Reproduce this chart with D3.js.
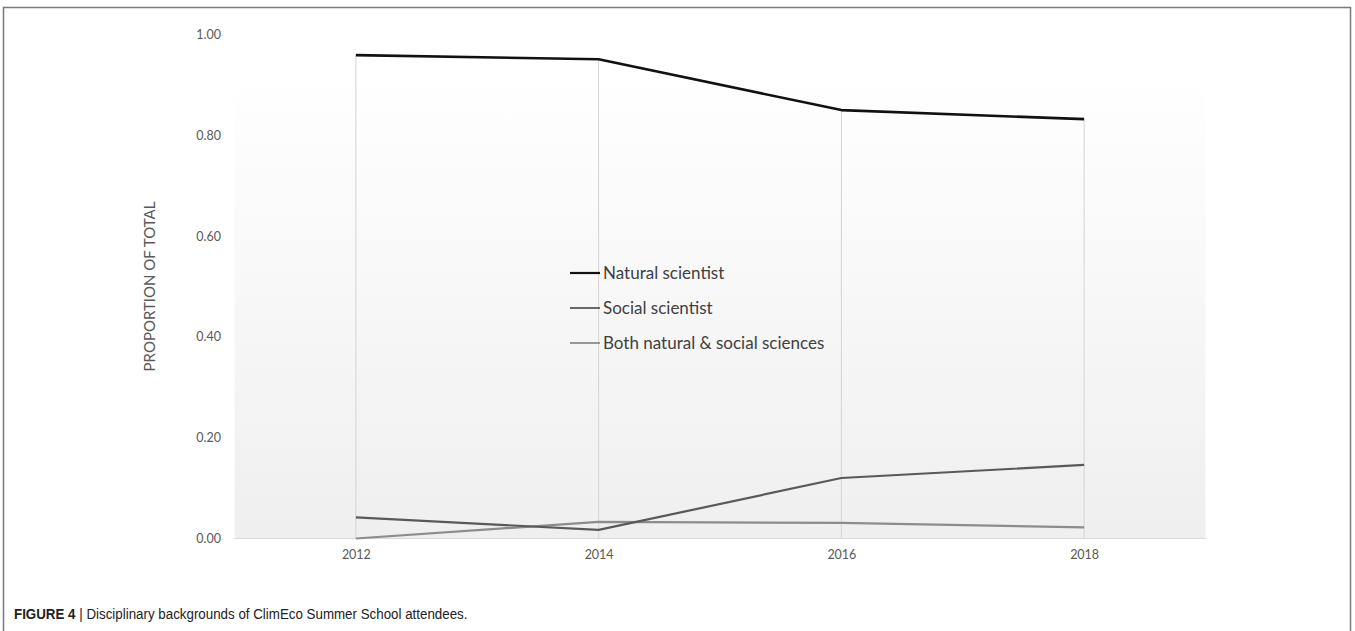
<!DOCTYPE html>
<html>
<head>
<meta charset="utf-8">
<script src="https://cdn.jsdelivr.net/npm/d3@7"></script>
<style>
  body { margin: 0; background: #fff; }
  svg { display: block; }
</style>
</head>
<body>
<div id="chart"></div>
<script>
var years = [2012, 2014, 2016, 2018];
var natural = [0.959, 0.951, 0.850, 0.832];
var social = [0.042, 0.017, 0.120, 0.146];
var both = [0.000, 0.033, 0.031, 0.022];
var seriesNames = ["Natural scientist", "Social scientist", "Both natural & social sciences"];
var yTicks = [0, 0.2, 0.4, 0.6, 0.8, 1.0];

var W = 1355, H = 631;

var svg = d3.select("#chart").append("svg")
    .attr("width", W)
    .attr("height", H);

// outer frame
svg.append("rect")
    .attr("x", 3.5).attr("y", 7.5)
    .attr("width", 1347).attr("height", 640)
    .attr("fill", "none")
    .attr("stroke", "#7a7a7a")
    .attr("stroke-width", 1.5);

var x = d3.scaleLinear().domain([2011, 2019]).range([234.5, 1205.5]);
var y = d3.scaleLinear().domain([0, 1]).range([538.5, 34.5]);

// plot area gradient
var defs = svg.append("defs");
var grad = defs.append("linearGradient")
    .attr("id", "bg").attr("x1", 0).attr("y1", 0).attr("x2", 0).attr("y2", 1);
grad.append("stop").attr("offset", "0%").attr("stop-color", "#ffffff");
grad.append("stop").attr("offset", "100%").attr("stop-color", "#efefef");

svg.append("rect")
    .attr("x", x(2011)).attr("y", y(0.92))
    .attr("width", x(2019) - x(2011))
    .attr("height", y(0) - y(0.92))
    .attr("fill", "url(#bg)");

// drop lines
svg.append("g").selectAll("line")
    .data(years)
    .enter().append("line")
    .attr("x1", function(d) { return x(d); })
    .attr("x2", function(d) { return x(d); })
    .attr("y1", function(d, i) { return y(Math.max(natural[i], social[i], both[i])); })
    .attr("y2", y(0))
    .attr("stroke", "#d4d4d4")
    .attr("stroke-width", 1);

// x axis line
svg.append("line")
    .attr("x1", x(2011)).attr("x2", x(2019))
    .attr("y1", y(0)).attr("y2", y(0))
    .attr("stroke", "#d9d9d9")
    .attr("stroke-width", 1.2);

// y tick labels
var yAxis = d3.axisLeft(y).tickValues(yTicks).tickFormat(d3.format(".2f")).tickSize(0).tickPadding(0);
var yg = svg.append("g")
    .attr("transform", "translate(221,0)")
    .call(yAxis);
yg.select(".domain").remove();
yg.selectAll("text")
    .attr("font-family", "Lato, 'Open Sans', sans-serif")
    .attr("font-size", 12.5)
    .attr("fill", "#595959");

// x tick labels
var xAxis = d3.axisBottom(x).tickValues(years).tickFormat(d3.format("d")).tickSize(0).tickPadding(0);
var xg = svg.append("g")
    .attr("transform", "translate(0,550)")
    .call(xAxis);
xg.select(".domain").remove();
xg.selectAll("text")
    .attr("font-family", "Lato, 'Open Sans', sans-serif")
    .attr("font-size", 12.5)
    .attr("fill", "#595959");

// y axis title
svg.append("text")
    .attr("transform", "translate(155," + y(0.5) + ") rotate(-90)")
    .attr("text-anchor", "middle")
    .attr("font-family", "Lato, 'Open Sans', sans-serif")
    .attr("font-size", 15)
    .attr("fill", "#595959")
    .text("PROPORTION OF TOTAL");

// lines
var series = [
  { name: seriesNames[0], values: natural, color: "#111111", width: 2.6 },
  { name: seriesNames[1], values: social, color: "#595959", width: 2.2 },
  { name: seriesNames[2], values: both, color: "#8c8c8c", width: 2.2 }
];

var line = d3.line()
    .x(function(d, i) { return x(years[i]); })
    .y(function(d) { return y(d); });

svg.append("g").selectAll("path")
    .data(series.slice().reverse())
    .enter().append("path")
    .attr("fill", "none")
    .attr("stroke", function(d) { return d.color; })
    .attr("stroke-width", function(d) { return d.width; })
    .attr("stroke-linejoin", "round")
    .attr("d", function(d) { return line(d.values); });

// legend
var legend = svg.append("g").attr("transform", "translate(570,273)");
var item = legend.selectAll("g")
    .data(series)
    .enter().append("g")
    .attr("transform", function(d, i) { return "translate(0," + (i * 35) + ")"; });
item.append("line")
    .attr("x1", 0).attr("x2", 30)
    .attr("stroke", function(d) { return d.color; })
    .attr("stroke-width", function(d) { return d.width - 0.4; });
item.append("text")
    .attr("x", 33)
    .attr("dy", "0.35em")
    .attr("font-family", "Lato, 'Open Sans', sans-serif")
    .attr("font-size", 17)
    .attr("fill", "#404040")
    .text(function(d) { return d.name; });

// caption (condensed face, so squeeze horizontally)
var cap = svg.append("text")
    .attr("transform", "translate(14,619) scale(0.89,1)")
    .attr("font-family", "'Liberation Sans', Arial, sans-serif")
    .attr("font-size", 15)
    .attr("fill", "#222");
cap.append("tspan").attr("font-weight", "bold").text("FIGURE 4");
cap.append("tspan").text(" | Disciplinary backgrounds of ClimEco Summer School attendees.");
</script>
</body>
</html>
